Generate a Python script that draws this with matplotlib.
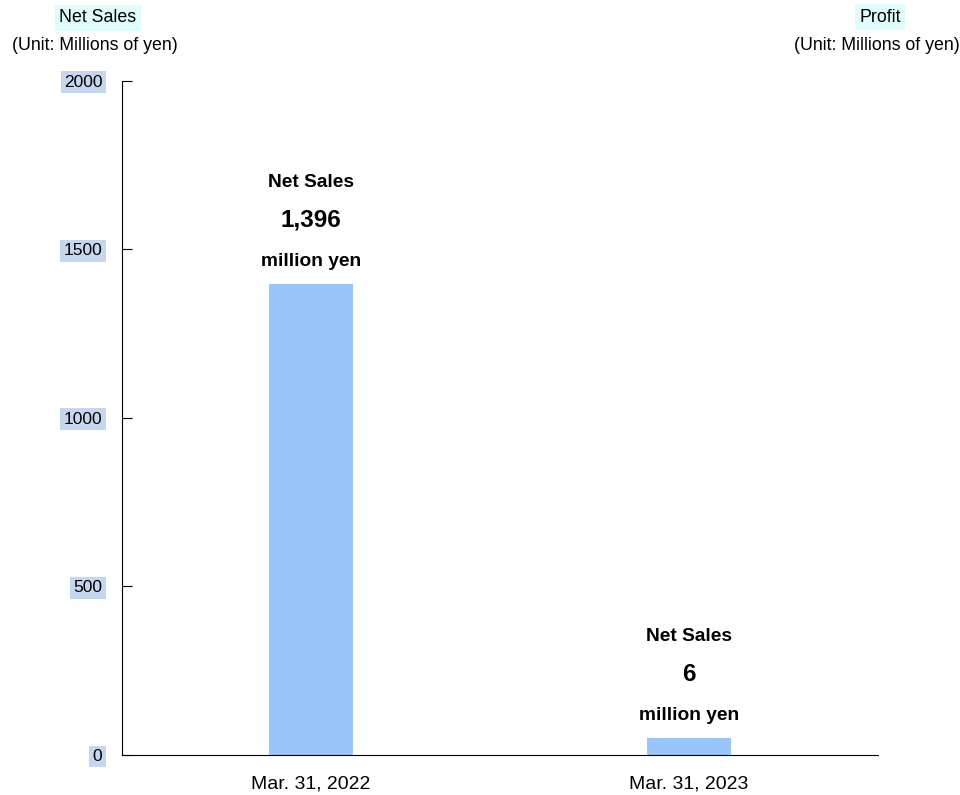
import matplotlib
matplotlib.use("Agg")
import matplotlib.pyplot as plt
from matplotlib import font_manager
import numpy as np

# === DATA ===
periods = ["Mar. 31, 2022", "Mar. 31, 2023"]
net_sales = [1396, 6]
value_labels = ["1,396", "6"]
y_ticks = [0, 500, 1000, 1500, 2000]

# smallest bar height drawn so tiny values stay visible
min_bar = 50

names = {f.name for f in font_manager.fontManager.ttflist}
narrow = "Liberation Sans Narrow" if "Liberation Sans Narrow" in names else None
plt.rcParams['font.family'] = ['Liberation Sans', 'DejaVu Sans']

fig = plt.figure(figsize=(9.6, 7.95), dpi=100)
ax = fig.add_axes([0.127, 0.0503, 0.7876, 0.8482])

xs = np.arange(len(periods))
heights = [max(v, min_bar) for v in net_sales]
bars = ax.bar(xs, heights, width=0.222, color="#99c6fa")

ax.set_xlim(-0.5, 1.5)
ax.set_ylim(0, 2000)

# === AXES ===
tick_font = narrow if narrow else "Liberation Sans"
ysize = 15.5 if narrow else 12.5
xsize = 16 if narrow else 14
for side in ("top", "right"):
    ax.spines[side].set_visible(False)
ax.set_yticks(y_ticks)
ax.set_yticklabels([str(t) for t in y_ticks], family=tick_font, fontsize=ysize)
ax.tick_params(axis="y", direction="in", length=7, pad=14)
for lbl in ax.get_yticklabels():
    lbl.set_bbox(dict(facecolor="#c5d7ee", edgecolor="none", pad=2.5))
ax.set_xticks(xs)
ax.set_xticklabels(periods, family=tick_font, fontsize=xsize)
ax.tick_params(axis="x", length=0, pad=15)

# === BAR LABELS ===
for bar, txt in zip(bars, value_labels):
    cx = bar.get_x() + bar.get_width() / 2
    top = bar.get_height()
    ax.annotate("million yen", (cx, top), xytext=(0, 23), textcoords="offset pixels",
                ha="center", va="center", fontsize=13.8, fontweight="bold")
    ax.annotate(txt, (cx, top), xytext=(0, 64), textcoords="offset pixels",
                ha="center", va="center", fontsize=17.5, fontweight="bold")
    ax.annotate("Net Sales", (cx, top), xytext=(0, 102), textcoords="offset pixels",
                ha="center", va="center", fontsize=13.8, fontweight="bold")

# === AXIS TITLES ===
hl = dict(facecolor="#e0fcfc", edgecolor="none", pad=3)
fig.text(98 / 960, 1 - 18 / 795, "Net Sales", ha="center", va="center", fontsize=12.8, bbox=hl)
fig.text(95 / 960, 1 - 46 / 795, "(Unit: Millions of yen)", ha="center", va="center", fontsize=12.8)
fig.text(880 / 960, 1 - 17 / 795, "Profit", ha="center", va="center", fontsize=12.8, bbox=hl)
fig.text(877 / 960, 1 - 46 / 795, "(Unit: Millions of yen)", ha="center", va="center", fontsize=12.8)

fig.savefig("out.png", dpi=100)
